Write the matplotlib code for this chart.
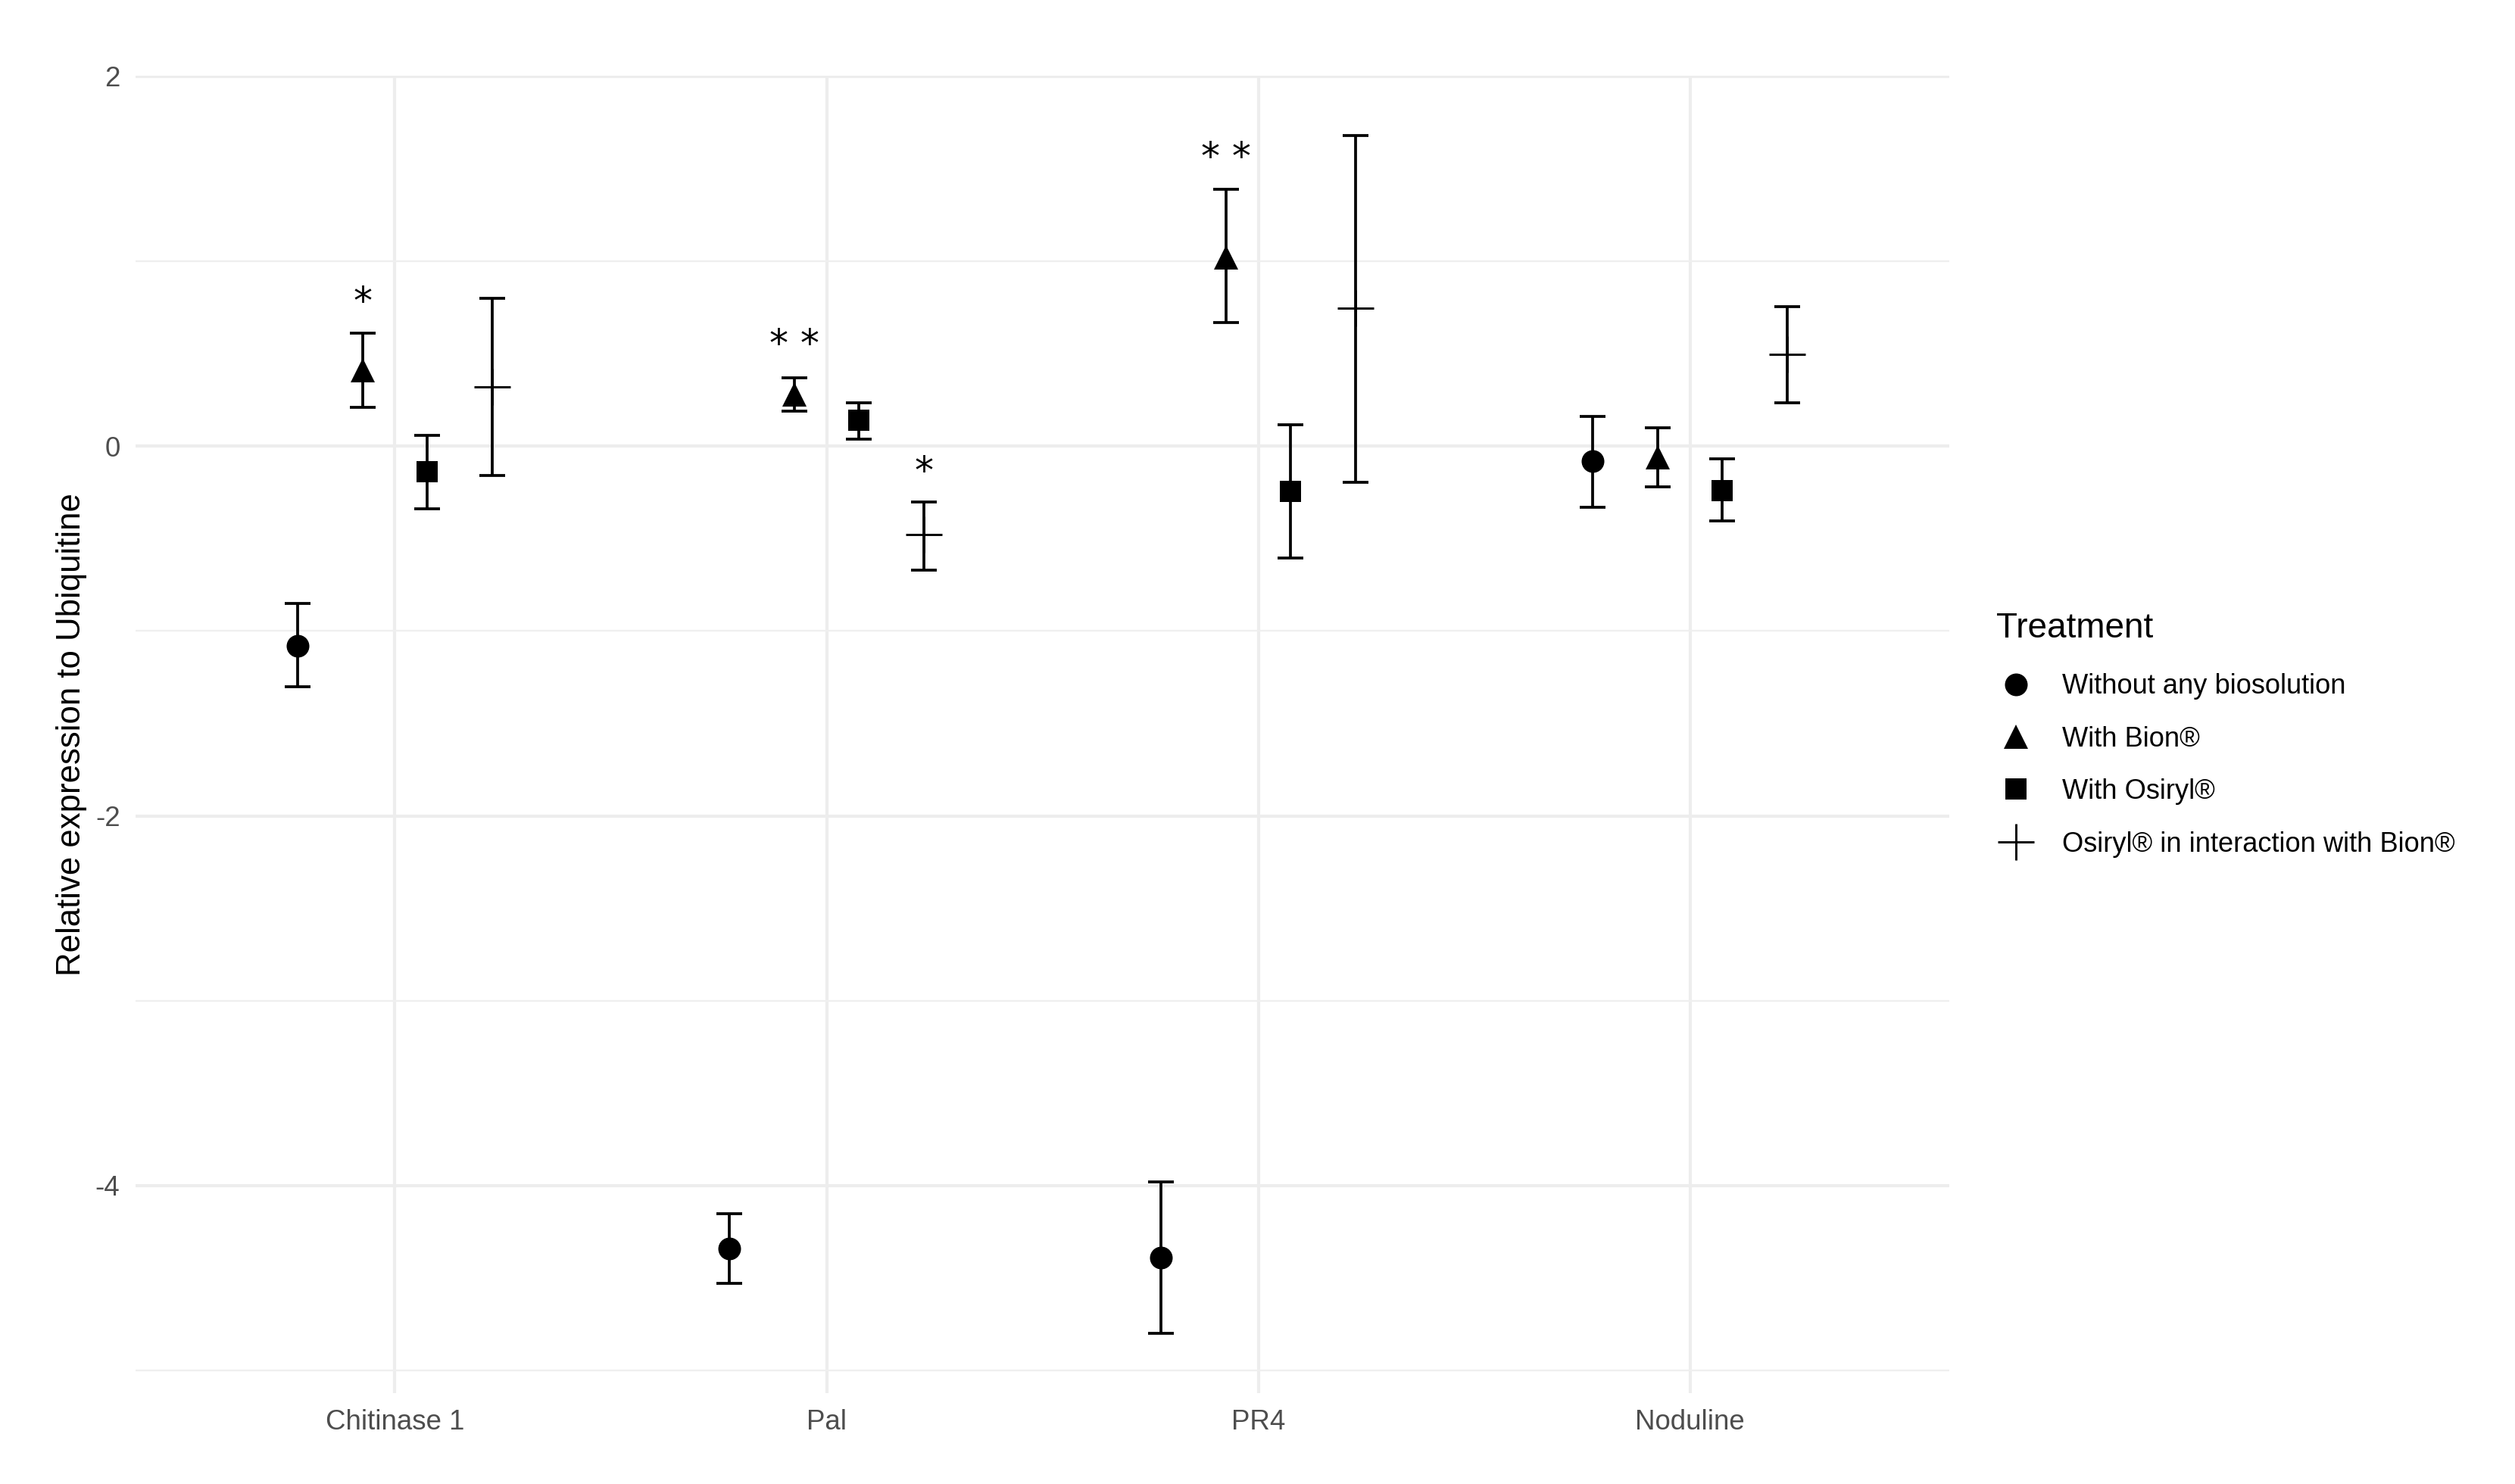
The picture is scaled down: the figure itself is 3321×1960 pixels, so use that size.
import numpy as np
import matplotlib
matplotlib.use("Agg")
import matplotlib.pyplot as plt
from matplotlib.lines import Line2D

plt.rcParams['font.family'] = ['Liberation Sans', 'DejaVu Sans']
plt.rcParams['axes.unicode_minus'] = False

genes = ["Chitinase 1", "Pal", "PR4", "Noduline"]
treatments = ["Without any biosolution", "With Bion®", "With Osiryl®",
              "Osiryl® in interaction with Bion®"]

without_mean = [-1.08, -4.34, -4.39, -0.08]
without_lo = [-1.30, -4.53, -4.80, -0.33]
without_hi = [-0.85, -4.15, -3.98, 0.16]

bion_mean = [0.41, 0.28, 1.02, -0.06]
bion_lo = [0.21, 0.19, 0.67, -0.22]
bion_hi = [0.61, 0.37, 1.39, 0.10]

osiryl_mean = [-0.14, 0.14, -0.245, -0.24]
osiryl_lo = [-0.34, 0.04, -0.605, -0.405]
osiryl_hi = [0.06, 0.235, 0.115, -0.07]

inter_mean = [0.32, -0.48, 0.745, 0.495]
inter_lo = [-0.16, -0.67, -0.195, 0.235]
inter_hi = [0.80, -0.30, 1.68, 0.755]

# significance labels: (gene index, treatment index, label, label y)
sig_gene = [0, 1, 1, 2]
sig_treat = [1, 1, 3, 1]
sig_label = ["*", "* *", "*", "* *"]
sig_y = [0.83, 0.60, -0.09, 1.61]

means = [without_mean, bion_mean, osiryl_mean, inter_mean]
los = [without_lo, bion_lo, osiryl_lo, inter_lo]
his = [without_hi, bion_hi, osiryl_hi, inter_hi]
markers = ['o', '^', 's', '+']
msizes = [7.2, 7.8, 6.6, 11.5]

fig = plt.figure(figsize=(3321 / 300, 1960 / 300), dpi=300)
ax = fig.add_axes([0.054, 0.061, 0.721, 0.888])

x = np.arange(1, len(genes) + 1)
dodge = 0.15
for j in range(4):
    xs = x + (j - 1.5) * dodge
    m = np.array(means[j])
    lo = np.array(los[j])
    hi = np.array(his[j])
    ax.errorbar(xs, m, yerr=[m - lo, hi - m], fmt='none', ecolor='black',
                elinewidth=0.9, capsize=4, capthick=0.9, zorder=3)
    if markers[j] == '+':
        ax.plot(xs, m, linestyle='none', marker='+', markersize=msizes[j],
                markeredgewidth=0.7, color='black', zorder=4)
    else:
        ax.plot(xs, m, linestyle='none', marker=markers[j], markersize=msizes[j],
                color='black', markeredgewidth=0, zorder=4)

for g, t, lab, yv in zip(sig_gene, sig_treat, sig_label, sig_y):
    ax.annotate(lab, (x[g] + (t - 1.5) * dodge, yv), xytext=(0, -6.5),
                textcoords='offset points', ha='center', va='baseline',
                fontsize=12, color='black', family=['DejaVu Sans'], zorder=5)

allvals = np.concatenate([np.ravel(los), np.ravel(his), sig_y])
lo_, hi_ = allvals.min(), allvals.max()
pad = (hi_ - lo_) * 0.05
ax.set_ylim(lo_ - pad, hi_ + pad)
ax.set_xlim(0.4, len(genes) + 0.6)

ax.set_yticks([-4, -2, 0, 2])
ax.set_yticks([-5, -3, -1, 1], minor=True)
ax.set_xticks(x)
ax.set_xticklabels(genes)
ax.grid(True, which='major', color='#EDEDED', linewidth=1.0, zorder=0)
ax.grid(True, which='minor', axis='y', color='#EFEFEF', linewidth=0.55, zorder=0)
ax.set_axisbelow(True)
for s in ax.spines.values():
    s.set_visible(False)
ax.tick_params(which='both', length=0, labelsize=8.8, labelcolor='#4D4D4D', pad=5)
ax.set_ylabel("Relative expression to Ubiquitine", fontsize=10.5)
ax.yaxis.set_label_coords(-0.0267, 0.5)

handles = []
for j in range(4):
    if markers[j] == '+':
        h = Line2D([], [], linestyle='none', marker='+', markersize=11.5,
                   markeredgewidth=0.7, color='black')
    else:
        h = Line2D([], [], linestyle='none', marker=markers[j],
                   markersize=msizes[j], markeredgewidth=0, color='black')
    handles.append(h)
leg = fig.legend(handles, treatments, loc='center left',
                 bbox_to_anchor=(0.784, 0.505), frameon=False,
                 title="Treatment", title_fontsize=11, fontsize=8.7,
                 alignment='left', handlelength=1.4, handletextpad=1.0,
                 labelspacing=0.95)
leg._legend_box.sep = 9

fig.savefig("out.png", dpi=300, facecolor='white')
